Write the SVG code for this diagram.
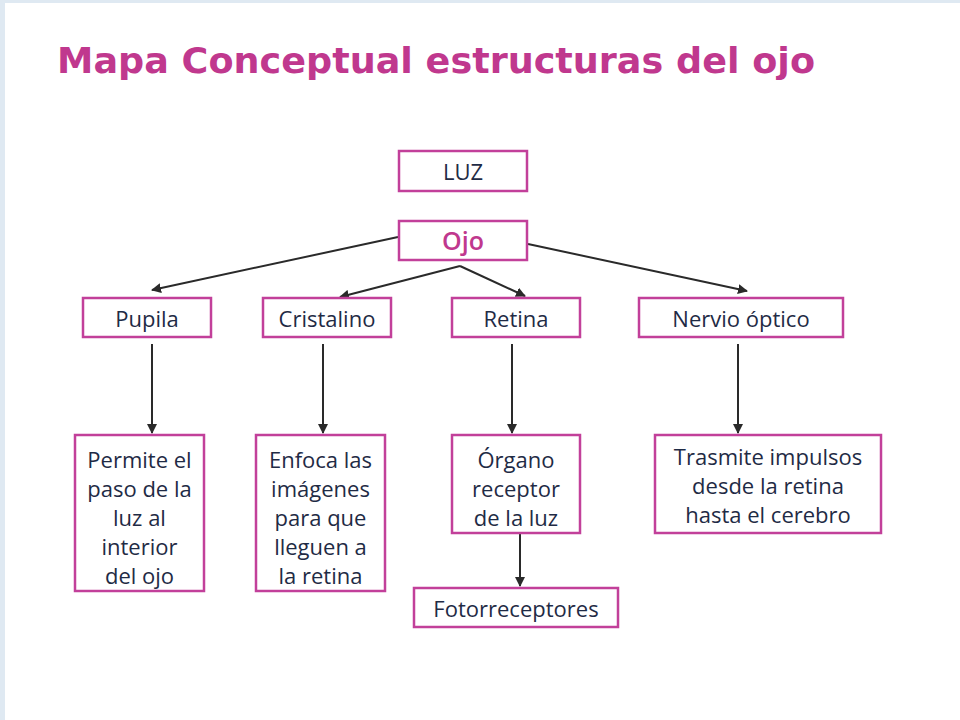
<svg xmlns="http://www.w3.org/2000/svg" width="960" height="720" viewBox="0 0 960 720">
<defs>
<style>
.box{fill:#ffffff;stroke:#c2409a;stroke-width:2.5}
.t{font-family:"Open Sans","Noto Sans","Liberation Sans",sans-serif;font-size:22px;fill:#1f2b45;text-anchor:middle}
.c{stroke:#2a2a2a;stroke-width:2;fill:none;marker-end:url(#ah)}
</style>
<marker id="ah" viewBox="0 0 10 10" refX="9" refY="5" markerWidth="5" markerHeight="5" orient="auto" markerUnits="strokeWidth">
<path d="M0,0 L10,5 L0,10 z" fill="#2a2a2a"/>
</marker>
</defs>
<rect x="0" y="0" width="960" height="720" fill="#dfe9f2"/>
<rect x="5" y="3" width="955" height="717" fill="#ffffff"/>
<text x="57" y="73" font-family="DejaVu Sans, Verdana, sans-serif" font-weight="bold" font-size="35" fill="#c0388e" textLength="758" lengthAdjust="spacingAndGlyphs">Mapa Conceptual estructuras del ojo</text>

<g id="connectors">
<path class="c" d="M398,237 L152,290"/>
<path class="c" d="M460,266 L340,297"/>
<path class="c" d="M460,266 L525,296"/>
<path class="c" d="M528,244 L747,291"/>
<path class="c" d="M152,344 L152,433"/>
<path class="c" d="M323,344 L323,433"/>
<path class="c" d="M512,344 L512,433"/>
<path class="c" d="M738,344 L738,433"/>
<path class="c" d="M520,533 L520,586"/>
</g>

<g id="luz"><rect class="box" x="399" y="151" width="128" height="40"/><text class="t" x="463" y="180">LUZ</text></g>
<g id="ojo"><rect class="box" x="399" y="221" width="128" height="39" stroke-width="3.5"/><text class="t" x="463" y="250" font-weight="600" style="fill:#c0388e;font-size:25px">Ojo</text></g>
<g id="pupila"><rect class="box" x="83" y="298" width="128" height="39"/><text class="t" x="147" y="327">Pupila</text></g>
<g id="cristalino"><rect class="box" x="263" y="298" width="128" height="39"/><text class="t" x="327" y="327">Cristalino</text></g>
<g id="retina"><rect class="box" x="452" y="298" width="128" height="39"/><text class="t" x="516" y="327">Retina</text></g>
<g id="nervio"><rect class="box" x="639" y="298" width="204" height="39"/><text class="t" x="741" y="327">Nervio óptico</text></g>
<g id="permite"><rect class="box" x="75" y="435" width="129" height="156"/>
<text class="t"><tspan x="139.5" y="468">Permite el</tspan><tspan x="139.5" y="497">paso de la</tspan><tspan x="139.5" y="526">luz al</tspan><tspan x="139.5" y="555">interior</tspan><tspan x="139.5" y="584">del ojo</tspan></text></g>
<g id="enfoca"><rect class="box" x="256" y="435" width="129" height="156"/>
<text class="t"><tspan x="320.5" y="468">Enfoca las</tspan><tspan x="320.5" y="497">imágenes</tspan><tspan x="320.5" y="526">para que</tspan><tspan x="320.5" y="555">lleguen a</tspan><tspan x="320.5" y="584">la retina</tspan></text></g>
<g id="organo"><rect class="box" x="452" y="435" width="128" height="98"/>
<text class="t"><tspan x="516" y="468">Órgano</tspan><tspan x="516" y="497">receptor</tspan><tspan x="516" y="526">de la luz</tspan></text></g>
<g id="trasmite"><rect class="box" x="655" y="435" width="226" height="98"/>
<text class="t"><tspan x="768" y="465">Trasmite impulsos</tspan><tspan x="768" y="494">desde la retina</tspan><tspan x="768" y="523">hasta el cerebro</tspan></text></g>
<g id="fotorreceptores"><rect class="box" x="414" y="588" width="204" height="39"/><text class="t" x="516" y="617">Fotorreceptores</text></g>
</svg>
